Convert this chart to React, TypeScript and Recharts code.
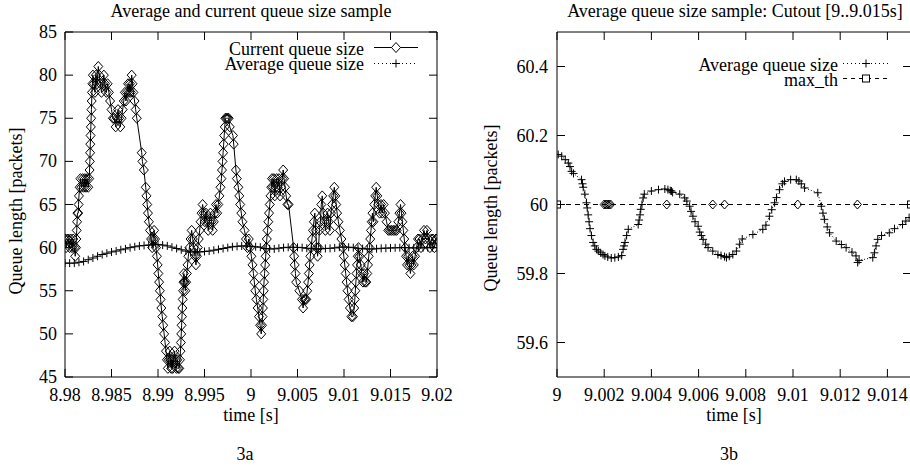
import React from 'react';
import { LineChart, Line, XAxis, YAxis } from 'recharts';

const FONT = "'Liberation Serif', 'Times New Roman', Times, serif";
const FS = 18;
const TICK = 8;

// ---------------- Figure 3a ----------------
const timeTicksA = [8.98, 8.985, 8.99, 8.995, 9, 9.005, 9.01, 9.015, 9.02];
const timeLabelsA = ['8.98', '8.985', '8.99', '8.995', '9', '9.005', '9.01', '9.015', '9.02'];
const queueTicksA = [45, 50, 55, 60, 65, 70, 75, 80, 85];
const queueLabelsA = ['45', '50', '55', '60', '65', '70', '75', '80', '85'];

// [time (s), current queue size (packets)]
const currentQueueA: [number, number][] = [
  [8.98, 61], [8.98012, 60], [8.98025, 61], [8.98038, 61], [8.9805, 60], [8.98062, 61], [8.98075, 60], [8.98088, 61],
  [8.981, 60], [8.9811, 59], [8.98118, 60], [8.98122, 61], [8.98126, 62], [8.9813, 63], [8.98134, 64], [8.98142, 64],
  [8.98146, 65], [8.9815, 66], [8.98158, 67], [8.98166, 68], [8.98178, 67], [8.9819, 68], [8.98202, 67], [8.98214, 68],
  [8.98226, 67], [8.98238, 68], [8.9825, 67], [8.9826, 68], [8.98264, 69], [8.98267, 70], [8.9827, 71], [8.98272, 72],
  [8.98275, 73], [8.98278, 74], [8.98281, 75], [8.98284, 76], [8.98287, 77], [8.9829, 78], [8.98295, 79], [8.983, 80],
  [8.98312, 79], [8.98322, 78], [8.98332, 80], [8.98345, 79], [8.98358, 81], [8.98368, 80], [8.9838, 79], [8.98392, 78],
  [8.98405, 79], [8.98418, 80], [8.9843, 79], [8.98445, 78], [8.98458, 79], [8.98472, 78], [8.98485, 77], [8.985, 76],
  [8.98515, 75], [8.9853, 75], [8.98545, 74], [8.98558, 75], [8.9857, 76], [8.98582, 75], [8.98595, 74], [8.98608, 75],
  [8.9862, 76], [8.98632, 77], [8.98644, 78], [8.98655, 77], [8.98666, 78], [8.98678, 79], [8.98688, 78], [8.98698, 79],
  [8.98708, 78], [8.98717, 80], [8.98726, 79], [8.98735, 78], [8.98748, 77], [8.9876, 76], [8.98772, 75], [8.98825, 71],
  [8.98832, 70], [8.98848, 69], [8.98868, 67], [8.98876, 66], [8.98884, 65], [8.98892, 64], [8.98902, 63], [8.98914, 62],
  [8.98926, 61], [8.98938, 60], [8.98948, 61], [8.98958, 62], [8.98968, 61], [8.98978, 60], [8.98988, 59], [8.98996, 58],
  [8.99004, 57], [8.99012, 56], [8.9902, 55], [8.99028, 54], [8.99036, 53], [8.99046, 52], [8.99056, 51], [8.99066, 50],
  [8.99076, 49], [8.99086, 48], [8.99096, 47], [8.99106, 46], [8.99116, 47], [8.99126, 48], [8.99134, 47], [8.99142, 46],
  [8.9915, 47], [8.99158, 46], [8.99168, 47], [8.99178, 48], [8.99188, 47], [8.99198, 46], [8.99208, 47], [8.99218, 46],
  [8.99228, 46], [8.99236, 47], [8.99242, 48], [8.99246, 49], [8.9925, 50], [8.99254, 51], [8.99258, 52], [8.99262, 53],
  [8.99266, 54], [8.9927, 55], [8.99274, 56], [8.99278, 57], [8.99286, 56], [8.99294, 55], [8.99302, 56], [8.9931, 57],
  [8.99318, 58], [8.99326, 59], [8.99338, 60], [8.9935, 61], [8.99362, 62], [8.99374, 61], [8.99386, 60], [8.99398, 59],
  [8.99408, 58], [8.99418, 59], [8.99428, 60], [8.99438, 61], [8.99448, 62], [8.99458, 63], [8.99468, 64], [8.9948, 65],
  [8.99492, 64], [8.99504, 63], [8.99516, 64], [8.99528, 63], [8.9954, 62], [8.99552, 63], [8.99564, 64], [8.99576, 63],
  [8.99588, 62], [8.996, 63], [8.99612, 64], [8.99624, 65], [8.99636, 64], [8.99648, 65], [8.9966, 66], [8.99672, 67],
  [8.99682, 68], [8.99688, 69], [8.99694, 70], [8.997, 71], [8.99706, 72], [8.99712, 73], [8.99718, 74], [8.99724, 75],
  [8.99736, 75], [8.99748, 75], [8.9976, 75], [8.99772, 74], [8.99806, 73], [8.99814, 72], [8.99838, 69], [8.99848, 68],
  [8.99864, 67], [8.99874, 66], [8.99884, 65], [8.99896, 64], [8.99908, 63], [8.9993, 62], [8.99946, 61], [8.99962, 60],
  [8.99976, 61], [8.9999, 60], [9.00004, 59], [9.00016, 58], [9.00026, 57], [9.00036, 56], [9.00046, 55], [9.00058, 54],
  [9.00072, 53], [9.00086, 52], [9.00098, 51], [9.0011, 50], [9.00118, 51], [9.00124, 52], [9.00128, 53], [9.00132, 54],
  [9.00136, 55], [9.0014, 56], [9.00146, 57], [9.00152, 58], [9.00158, 59], [9.00164, 60], [9.0017, 61], [9.00178, 62],
  [9.00186, 63], [9.00194, 64], [9.00202, 65], [9.0021, 66], [9.00218, 67], [9.00226, 68], [9.00236, 67], [9.00246, 68],
  [9.00256, 66], [9.00266, 67], [9.00276, 68], [9.00288, 67], [9.003, 68], [9.00312, 66], [9.00324, 67], [9.00336, 68],
  [9.00346, 69], [9.00356, 68], [9.00366, 67], [9.00378, 66], [9.00392, 65], [9.00404, 65], [9.00458, 60], [9.00464, 59],
  [9.0047, 58], [9.00478, 57], [9.00486, 56], [9.0052, 55], [9.00548, 54], [9.0056, 53], [9.00572, 54], [9.00584, 54],
  [9.00594, 54], [9.00604, 55], [9.00614, 56], [9.00622, 57], [9.0063, 58], [9.00638, 59], [9.00646, 60], [9.00656, 61],
  [9.00666, 62], [9.00676, 63], [9.00686, 64], [9.00696, 62], [9.00706, 60], [9.00716, 59], [9.00726, 60], [9.00736, 62],
  [9.00746, 63], [9.00756, 65], [9.00766, 66], [9.00776, 64], [9.00788, 63], [9.008, 62], [9.00812, 63], [9.00824, 64],
  [9.00836, 63], [9.00848, 62], [9.0086, 64], [9.00872, 65], [9.00884, 66], [9.00896, 67], [9.00906, 66], [9.00916, 65],
  [9.00926, 64], [9.0094, 63], [9.00956, 62], [9.00972, 61], [9.00988, 60], [9.00998, 59], [9.01008, 58], [9.01018, 57],
  [9.01028, 56], [9.01038, 55], [9.0105, 54], [9.01064, 53], [9.0108, 52], [9.01096, 52], [9.0111, 53], [9.01116, 54],
  [9.01122, 55], [9.01128, 56], [9.01134, 57], [9.0114, 58], [9.01148, 59], [9.01156, 60], [9.01168, 59], [9.0118, 58],
  [9.01192, 57], [9.01204, 56], [9.01216, 57], [9.01228, 56], [9.0124, 56], [9.0125, 57], [9.01258, 58], [9.01266, 59],
  [9.01274, 60], [9.01282, 61], [9.0129, 62], [9.01298, 63], [9.01306, 64], [9.01316, 63], [9.01326, 65], [9.01336, 66],
  [9.01346, 67], [9.01358, 66], [9.0137, 65], [9.01384, 64], [9.01398, 65], [9.01412, 64], [9.01426, 65], [9.0144, 64],
  [9.01458, 63], [9.01476, 62], [9.01494, 62], [9.01512, 62], [9.0153, 62], [9.01548, 62], [9.01566, 62], [9.01584, 63],
  [9.01596, 64], [9.01608, 65], [9.01618, 64], [9.01628, 63], [9.01638, 62], [9.01648, 61], [9.01658, 60], [9.01668, 59],
  [9.01678, 58], [9.0169, 59], [9.01702, 58], [9.01714, 57], [9.01726, 58], [9.01738, 59], [9.0175, 58], [9.01764, 59],
  [9.0178, 60], [9.01796, 61], [9.01812, 61], [9.01828, 60], [9.01844, 61], [9.0186, 62], [9.01876, 61], [9.01892, 62],
  [9.01908, 61], [9.01924, 60], [9.0194, 61], [9.01956, 61], [9.01972, 60], [9.01988, 61], [9.02, 61],
];

// [time (s), average queue size (packets)]
const averageQueueA: [number, number][] = [
  [8.98, 58.2], [8.9805, 58.2], [8.981, 58.2], [8.9815, 58.3], [8.982, 58.4], [8.9825, 58.6], [8.983, 58.8],
  [8.9835, 59.0], [8.984, 59.2], [8.9845, 59.35], [8.985, 59.5], [8.9855, 59.6], [8.986, 59.75], [8.9865, 59.85],
  [8.987, 60.0], [8.9875, 60.1], [8.988, 60.2], [8.9885, 60.25], [8.989, 60.3], [8.9895, 60.35], [8.99, 60.35],
  [8.9905, 60.3], [8.991, 60.2], [8.9915, 60.05], [8.992, 59.9], [8.9925, 59.75], [8.993, 59.6], [8.9935, 59.5],
  [8.994, 59.5], [8.9945, 59.5], [8.995, 59.55], [8.9955, 59.6], [8.996, 59.7], [8.9965, 59.8], [8.997, 59.9],
  [8.9975, 60.0], [8.998, 60.1], [8.9985, 60.15], [8.999, 60.2], [8.9995, 60.18], [9.0, 60.15], [9.0005, 60.1],
  [9.001, 60.05], [9.0015, 59.9], [9.002, 59.85], [9.0025, 59.85], [9.003, 59.93], [9.0035, 60.0], [9.004, 60.04],
  [9.0045, 60.04], [9.005, 60.03], [9.0055, 60.0], [9.006, 59.93], [9.0065, 59.87], [9.007, 59.85], [9.0075, 59.86],
  [9.008, 59.9], [9.0085, 59.92], [9.009, 59.97], [9.0095, 60.05], [9.01, 60.07], [9.0105, 60.05], [9.011, 60.0],
  [9.0115, 59.92], [9.012, 59.88], [9.0125, 59.85], [9.013, 59.84], [9.0135, 59.87], [9.014, 59.92], [9.0145, 59.94],
  [9.015, 59.96], [9.0155, 59.98], [9.016, 60.0], [9.0165, 60.0], [9.017, 59.98], [9.0175, 59.97], [9.018, 59.97],
  [9.0185, 59.98], [9.019, 60.0], [9.0195, 60.0], [9.02, 60.0],
];

// ---------------- Figure 3b ----------------
const timeTicksB = [9, 9.002, 9.004, 9.006, 9.008, 9.01, 9.012, 9.014];
const timeLabelsB = ['9', '9.002', '9.004', '9.006', '9.008', '9.01', '9.012', '9.014'];
const queueTicksB = [59.6, 59.8, 60, 60.2, 60.4];
const queueLabelsB = ['59.6', '59.8', '60', '60.2', '60.4'];

const averageQueueB: [number, number][] = [
  [9.00005, 60.145], [9.0002, 60.14], [9.00035, 60.13], [9.00048, 60.12], [9.00055, 60.11], [9.00062, 60.096],
  [9.0007, 60.09], [9.00104, 60.072], [9.00108, 60.06], [9.00111, 60.05], [9.00118, 60.03], [9.00125, 60.005],
  [9.00128, 59.99], [9.00132, 59.97], [9.00136, 59.95], [9.0014, 59.93], [9.00146, 59.91], [9.00153, 59.89],
  [9.0016, 59.88], [9.00167, 59.87], [9.00175, 59.865], [9.00185, 59.86], [9.00195, 59.855], [9.00203, 59.851],
  [9.00215, 59.848], [9.0023, 59.845], [9.00245, 59.846], [9.0026, 59.848], [9.00274, 59.852], [9.0028, 59.87],
  [9.00284, 59.88], [9.00288, 59.89], [9.00295, 59.91], [9.00302, 59.928], [9.00344, 59.942], [9.00348, 59.955],
  [9.00352, 59.97], [9.00355, 59.986], [9.0036, 60.0], [9.00365, 60.019], [9.0037, 60.03], [9.004, 60.039],
  [9.0043, 60.043], [9.00457, 60.045], [9.0047, 60.043], [9.0048, 60.04], [9.00485, 60.039], [9.0049, 60.035],
  [9.0052, 60.03], [9.00541, 60.019], [9.0055, 60.01], [9.00562, 59.995], [9.00568, 59.98], [9.00576, 59.966],
  [9.00585, 59.95], [9.00598, 59.937], [9.00605, 59.92], [9.00612, 59.91], [9.00619, 59.899], [9.0063, 59.885],
  [9.0064, 59.875], [9.0066, 59.865], [9.00682, 59.855], [9.00695, 59.852], [9.0071, 59.849], [9.00718, 59.846],
  [9.0073, 59.85], [9.00745, 59.855], [9.0076, 59.865], [9.00774, 59.885], [9.00785, 59.9], [9.0083, 59.913],
  [9.00872, 59.928], [9.00885, 59.94], [9.009, 59.966], [9.0091, 59.985], [9.00922, 60.005], [9.0093, 60.02],
  [9.00943, 60.043], [9.00955, 60.06], [9.00964, 60.067], [9.0099, 60.072], [9.01014, 60.072], [9.01025, 60.068],
  [9.01035, 60.06], [9.01049, 60.048], [9.01105, 60.034], [9.0112, 59.995], [9.01127, 59.975], [9.01133, 59.957],
  [9.01145, 59.935], [9.01155, 59.918], [9.01183, 59.894], [9.01205, 59.884], [9.01225, 59.875], [9.0125, 59.862],
  [9.01267, 59.851], [9.01274, 59.832], [9.0128, 59.838], [9.01338, 59.846], [9.01345, 59.86], [9.01352, 59.88],
  [9.01359, 59.899], [9.01375, 59.91], [9.01408, 59.918], [9.0143, 59.93], [9.01464, 59.942], [9.01478, 59.952],
  [9.01492, 59.962], [9.0152, 59.97],
];
const maxThB: [number, number][] = [[9, 60], [9.015, 60]];
const currentAt60B: [number, number][] = [
  [9.002, 60], [9.00207, 60], [9.00213, 60], [9.0022, 60], [9.00227, 60], [9.00465, 60], [9.0066, 60], [9.0071, 60],
  [9.0102, 60], [9.01273, 60],
];

// ---------------- helpers ----------------
const rows = (pairs: [number, number][]) => pairs.map(([t, q]) => ({ t, q }));
const findIdx = (ticks: number[], v: number) => ticks.findIndex((t) => Math.abs(t - v) < 1e-9);
const txtStyle = { fontFamily: FONT, fontSize: FS } as const;

const bottomTick = (ticks: number[], labels: string[], axisY: number) => (p: any) => {
  const i = findIdx(ticks, p.payload.value);
  return (
    <g key={`bt-${p.index}`}>
      <line x1={p.x} x2={p.x} y1={axisY} y2={axisY - TICK} stroke="#000" strokeWidth={1} />
      <text x={p.x} y={axisY + 24} textAnchor="middle" style={txtStyle} fill="#000">
        {labels[i]}
      </text>
    </g>
  );
};
const topTick = (axisY: number) => (p: any) => (
  <g key={`tt-${p.index}`}>
    <line x1={p.x} x2={p.x} y1={axisY} y2={axisY + TICK} stroke="#000" strokeWidth={1} />
  </g>
);
const leftTick = (ticks: number[], labels: string[], axisX: number, gap: number) => (p: any) => {
  const i = findIdx(ticks, p.payload.value);
  return (
    <g key={`lt-${p.index}`}>
      <line x1={axisX} x2={axisX + TICK} y1={p.y} y2={p.y} stroke="#000" strokeWidth={1} />
      <text x={axisX - gap} y={p.y + 6} textAnchor="end" style={txtStyle} fill="#000">
        {labels[i]}
      </text>
    </g>
  );
};
const rightTick = (axisX: number) => (p: any) => (
  <g key={`rt-${p.index}`}>
    <line x1={axisX} x2={axisX - TICK} y1={p.y} y2={p.y} stroke="#000" strokeWidth={1} />
  </g>
);

const diamondDot = (w: number, h: number) => (p: any) => {
  const { cx, cy, index } = p;
  if (cx == null || cy == null) return <g key={`dn-${index}`} />;
  return (
    <path key={`d-${index}`} d={`M${cx},${cy - h}L${cx + w},${cy}L${cx},${cy + h}L${cx - w},${cy}Z`}
      fill="none" stroke="#000" strokeWidth={1} />
  );
};
const plusDot = (s: number) => (p: any) => {
  const { cx, cy, index } = p;
  if (cx == null || cy == null) return <g key={`pn-${index}`} />;
  return (
    <path key={`p-${index}`} d={`M${cx - s},${cy}H${cx + s}M${cx},${cy - s}V${cy + s}`}
      fill="none" stroke="#000" strokeWidth={1} />
  );
};
const squareDot = (s: number) => (p: any) => {
  const { cx, cy, index } = p;
  if (cx == null || cy == null) return <g key={`sn-${index}`} />;
  return <rect key={`s-${index}`} x={cx - s} y={cy - s} width={2 * s} height={2 * s} fill="none" stroke="#000" strokeWidth={1} />;
};

// layout
const TOP = 32;
const BOTTOM = 377;
const H = 468;
const A_LEFT = 65;
const A_RIGHT = 437;
const A_W = 455;
const B_OFF = 455;
const B_LEFT = 557 - B_OFF;
const B_W = 460;
const B_RIGHT = 911 - B_OFF;

const txt = { style: txtStyle, fill: '#000' } as const;

export default function App() {
  return (
    <div style={{ position: 'absolute', left: 0, top: 0, width: 910, height: H, overflow: 'hidden', background: '#fff' }}>
      <div style={{ position: 'absolute', left: 0, top: 0 }}>
        <LineChart width={A_W} height={H} margin={{ top: 0, right: 0, bottom: 0, left: 0 }}>
          <XAxis xAxisId="b" dataKey="t" type="number" domain={[8.98, 9.02]} ticks={timeTicksA} interval={0}
            allowDataOverflow orientation="bottom" height={H - BOTTOM} axisLine={{ stroke: '#000' }} tickLine={false}
            tickSize={0} tickMargin={0} tick={bottomTick(timeTicksA, timeLabelsA, BOTTOM)} />
          <XAxis xAxisId="t" dataKey="t" type="number" domain={[8.98, 9.02]} ticks={timeTicksA} interval={0}
            allowDataOverflow orientation="top" height={TOP} axisLine={{ stroke: '#000' }} tickLine={false}
            tickSize={0} tickMargin={0} tick={topTick(TOP)} />
          <YAxis yAxisId="l" type="number" domain={[45, 85]} ticks={queueTicksA} interval={0} allowDataOverflow
            orientation="left" width={A_LEFT} axisLine={{ stroke: '#000' }} tickLine={false} tickSize={0} tickMargin={0}
            tick={leftTick(queueTicksA, queueLabelsA, A_LEFT, 8)} />
          <YAxis yAxisId="r" type="number" domain={[45, 85]} ticks={queueTicksA} interval={0} allowDataOverflow
            orientation="right" width={A_W - A_RIGHT} axisLine={{ stroke: '#000' }} tickLine={false} tickSize={0}
            tickMargin={0} tick={rightTick(A_RIGHT)} />
          <Line xAxisId="b" yAxisId="l" data={rows(currentQueueA)} dataKey="q" type="linear" stroke="#000"
            strokeWidth={1} dot={diamondDot(4.5, 5)} activeDot={false} isAnimationActive={false} />
          <Line xAxisId="b" yAxisId="l" data={rows(averageQueueA)} dataKey="q" type="linear" stroke="#000"
            strokeWidth={1} strokeDasharray="1 3" dot={plusDot(4)} activeDot={false} isAnimationActive={false} />
        </LineChart>
      </div>
      <div style={{ position: 'absolute', left: B_OFF, top: 0 }}>
        <LineChart width={B_W} height={H} margin={{ top: 0, right: 0, bottom: 0, left: 0 }}>
          <XAxis xAxisId="b" dataKey="t" type="number" domain={[9, 9.015]} ticks={timeTicksB} interval={0}
            allowDataOverflow orientation="bottom" height={H - BOTTOM} axisLine={{ stroke: '#000' }} tickLine={false}
            tickSize={0} tickMargin={0} tick={bottomTick(timeTicksB, timeLabelsB, BOTTOM)} />
          <XAxis xAxisId="t" dataKey="t" type="number" domain={[9, 9.015]} ticks={timeTicksB} interval={0}
            allowDataOverflow orientation="top" height={TOP} axisLine={{ stroke: '#000' }} tickLine={false}
            tickSize={0} tickMargin={0} tick={topTick(TOP)} />
          <YAxis yAxisId="l" type="number" domain={[59.5, 60.5]} ticks={queueTicksB} interval={0} allowDataOverflow
            orientation="left" width={B_LEFT} axisLine={{ stroke: '#000' }} tickLine={false} tickSize={0} tickMargin={0}
            tick={leftTick(queueTicksB, queueLabelsB, B_LEFT, 9)} />
          <YAxis yAxisId="r" type="number" domain={[59.5, 60.5]} ticks={queueTicksB} interval={0} allowDataOverflow
            orientation="right" width={B_W - B_RIGHT} axisLine={{ stroke: '#000' }} tickLine={false} tickSize={0}
            tickMargin={0} tick={rightTick(B_RIGHT)} />
          <Line xAxisId="b" yAxisId="l" data={rows(maxThB)} dataKey="q" type="linear" stroke="#000" strokeWidth={1}
            strokeDasharray="5 4" dot={squareDot(3.5)} activeDot={false} isAnimationActive={false} />
          <Line xAxisId="b" yAxisId="l" data={rows(currentAt60B)} dataKey="q" type="linear" stroke="none"
            dot={diamondDot(4, 4.5)} activeDot={false} isAnimationActive={false} />
          <Line xAxisId="b" yAxisId="l" data={rows(averageQueueB)} dataKey="q" type="linear" stroke="#000"
            strokeWidth={1} strokeDasharray="1 2" dot={plusDot(4)} activeDot={false} isAnimationActive={false} />
        </LineChart>
      </div>
      <svg width={910} height={H} style={{ position: 'absolute', left: 0, top: 0, pointerEvents: 'none' }}>
        {/* titles */}
        <text x={251} y={17} textAnchor="middle" {...txt}>Average and current queue size sample</text>
        <text x={735} y={17} textAnchor="middle" {...txt}>Average queue size sample: Cutout [9..9.015s]</text>
        {/* axis labels */}
        <text x={251} y={421} textAnchor="middle" {...txt}>time [s]</text>
        <text x={734} y={421} textAnchor="middle" {...txt}>time [s]</text>
        <text x={22} y={211} textAnchor="middle" transform="rotate(-90 22 211)" {...txt}>Queue length [packets]</text>
        <text x={497} y={208} textAnchor="middle" transform="rotate(-90 497 208)" {...txt}>Queue length [packets]</text>
        {/* captions */}
        <text x={245} y={460} textAnchor="middle" {...txt}>3a</text>
        <text x={729} y={460} textAnchor="middle" {...txt}>3b</text>
        {/* legend 3a */}
        <text x={364} y={54.5} textAnchor="end" {...txt}>Current queue size</text>
        <line x1={374} x2={418} y1={47.5} y2={47.5} stroke="#000" strokeWidth={1} />
        <path d="M396,42.5L400.5,47.5L396,52.5L391.5,47.5Z" fill="#fff" stroke="#000" strokeWidth={1} />
        <text x={364} y={70} textAnchor="end" {...txt}>Average queue size</text>
        <line x1={374} x2={418} y1={63.5} y2={63.5} stroke="#000" strokeWidth={1} strokeDasharray="1 3" />
        <path d="M392,63.5H400M396,59.5V67.5" fill="none" stroke="#000" strokeWidth={1} />
        {/* legend 3b */}
        <text x={838} y={70.5} textAnchor="end" {...txt}>Average queue size</text>
        <line x1={843} x2={888} y1={63.5} y2={63.5} stroke="#000" strokeWidth={1} strokeDasharray="1 3" />
        <path d="M862,63.5H870M866,59.5V67.5" fill="none" stroke="#000" strokeWidth={1} />
        <text x={838} y={86} textAnchor="end" {...txt}>max_th</text>
        <line x1={843} x2={888} y1={78.5} y2={78.5} stroke="#000" strokeWidth={1} strokeDasharray="4 4" />
        <rect x={862.5} y={75} width={7} height={7} fill="#fff" stroke="#000" strokeWidth={1} />
      </svg>
    </div>
  );
}
